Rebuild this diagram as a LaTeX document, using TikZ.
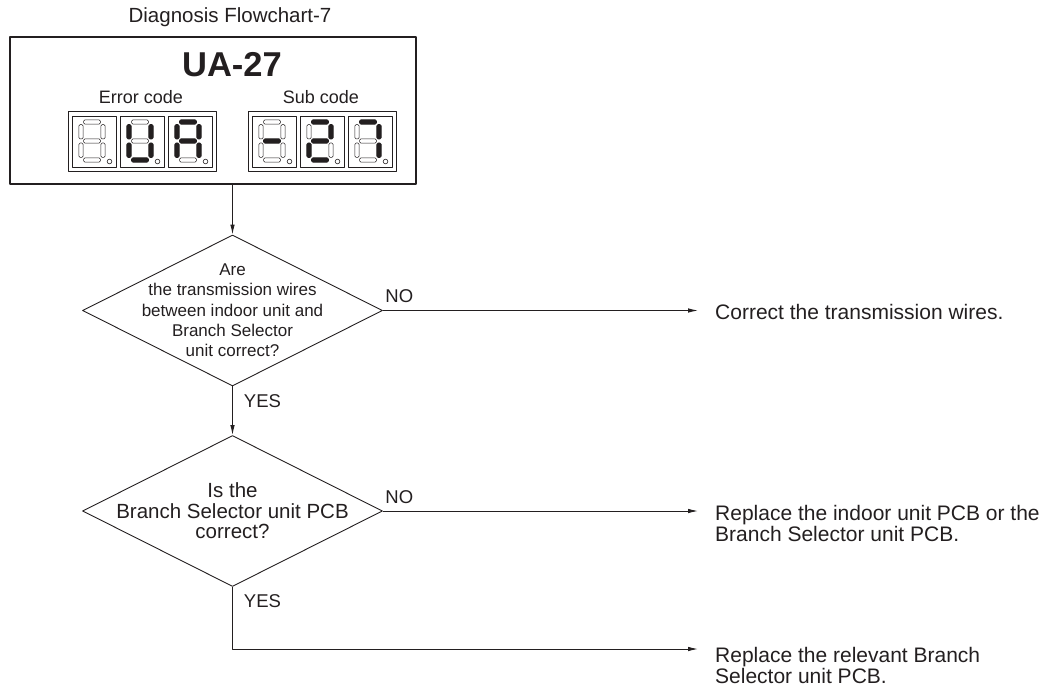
\documentclass[tikz,border=0pt]{standalone}
\usepackage{fontspec}
\setmainfont{Liberation Sans}
\usepackage{tikz}
\usetikzlibrary{shapes.geometric,arrows.meta,positioning}
\definecolor{ink}{RGB}{35,31,32}
\newcommand{\fs}[1]{\fontsize{#1}{#1}\selectfont}
% one seven segment digit: #1 = box centre, #2-#8 = segments a-g (1 lit, 0 dark)
\newcommand{\segdigit}[8]{%
  \begin{scope}[shift={#1}]
    \draw[digitbox] (-22,-25.5) rectangle (22,25.5);
    \draw[seg#2] (-10.5,-21.7) rectangle (6.5,-17.3);
    \draw[seg#3] (6.8,-17) rectangle (11.2,-2.5);
    \draw[seg#4] (6.8,1.5) rectangle (11.2,16);
    \draw[seg#5] (-10.5,16.3) rectangle (6.5,20.7);
    \draw[seg#6] (-15.2,1.5) rectangle (-10.8,16);
    \draw[seg#7] (-15.2,-17) rectangle (-10.8,-2.5);
    \draw[seg#8] (-10.5,-2.7) rectangle (6.5,1.7);
    \draw[digitbox,line width=0.6pt] (15.5,20) circle (2.3);
  \end{scope}}

\begin{document}
\begin{tikzpicture}[x=1pt,y=-1pt,line join=round,
  every node/.style={text=ink},
  headbox/.style={draw=ink,line width=1.3pt,minimum width=406,minimum height=147,inner sep=0},
  digitbox/.style={draw=ink,line width=0.8pt},
  seg0/.style={draw=ink,line width=0.5pt,rounded corners=1.5pt,fill=white},
  seg1/.style={draw=ink,fill=ink,line width=0.8pt,rounded corners=1.5pt},
  ask/.style={diamond,draw=ink,line width=0.9pt,minimum width=300,minimum height=151,inner sep=0},
  answer/.style={anchor=west,align=left,font=\fs{21},inner xsep=17,inner ysep=0},
  yesno/.style={font=\fs{18.5},inner sep=2},
  arr/.style={draw=ink,line width=0.9pt,-{Latex[length=10pt,width=4.5pt]}}]
\useasboundingbox (0,0) rectangle (1056,687);

% header with the remote controller display
\node[font=\fs{20.5}] (title) at (230,17) {Diagnosis Flowchart-7};
\node[headbox] (head) at (213,110.5) {};
\node[font=\bfseries\fs{34.5}] (code) at (232,65) {UA-27};
\node[font=\fs{18}] (errlbl) at (141,97) {Error code};
\node[font=\fs{18}] (sublbl) at (321,97) {Sub code};
\draw[digitbox] (68,111) rectangle (216,171);
\draw[digitbox] (248,111) rectangle (396,171);
\foreach \cx/\a/\b/\c/\d/\e/\f/\g in {94/0/0/0/0/0/0/0,142/0/1/1/1/1/1/0,190/1/1/1/0/1/1/1,
    274/0/0/0/0/0/0/1,322/1/1/0/1/1/0/1,370/1/1/1/0/0/0/0}
  \segdigit{(\cx,141.5)}{\a}{\b}{\c}{\d}{\e}{\f}{\g};

% decisions
\node[ask] (q1) at (232.5,310.5) {};
\node[align=center,font=\fontsize{17}{20.3}\selectfont] (q1text) at (q1) {Are\\the transmission wires\\between indoor unit and\\Branch Selector\\unit correct?};
\node[ask] (q2) at (232.5,511) {};
\node[align=center,font=\fontsize{20.5}{20.5}\selectfont] (q2text) at (q2) {Is the\\Branch Selector unit PCB\\correct?};

% results
\node[answer] (res1) at (698,312) {Correct the transmission wires.};
\node[answer] (res2) at (698,523.5) {Replace the indoor unit PCB or the\\Branch Selector unit PCB.};
\node[answer] (res3) at (698,665) {Replace the relevant Branch\\Selector unit PCB.};

\draw[arr] (head.south -| q1.north) -- (q1.north);
\draw[arr] (q1.east) -- node[pos=0,anchor=south west,yesno,yshift=5]{NO} (q1.east -| res1.west);
\draw[arr] (q1.south) -- node[pos=0,anchor=north west,yesno,xshift=9,yshift=-5.5]{YES} (q2.north);
\draw[arr] (q2.east) -- node[pos=0,anchor=south west,yesno,yshift=5]{NO} (q2.east -| res2.west);
\draw[arr] (q2.south) node[anchor=north west,yesno,xshift=9,yshift=-5.5]{YES} |- ([yshift=16]res3.west);
\end{tikzpicture}
\end{document}
